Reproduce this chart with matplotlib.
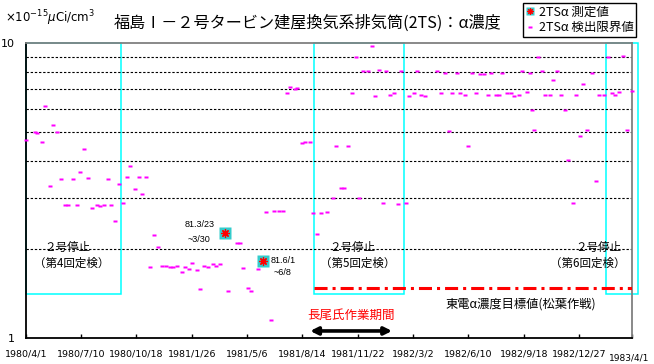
import matplotlib
matplotlib.use('Agg')
import matplotlib.pyplot as plt
from matplotlib.patches import Rectangle
from matplotlib.lines import Line2D
from matplotlib.path import Path
from matplotlib.ticker import LogLocator, NullFormatter, FixedLocator

plt.rcParams['font.family'] = ['Noto Sans CJK JP', 'DejaVu Sans']
plt.rcParams['lines.scale_dashes'] = False

# ---------------- data (x = days since 1980/4/1) ----------------
tick_days = [0, 100, 200, 300, 400, 500, 600, 700, 800, 900, 1000]
tick_labels = ['1980/4/1', '1980/7/10', '1980/10/18', '1981/1/26', '1981/5/6',
               '1981/8/14', '1981/11/22', '1982/3/2', '1982/6/10', '1982/9/18',
               '1982/12/27']
end_day = 1095
end_label = '1983/4/1'

lim_days = [1, 16, 21, 30, 35, 44, 50, 57, 64, 71, 77, 86, 92, 99, 105, 113, 119,
            128, 134, 142, 148, 155, 162, 169, 176, 183, 189, 197, 204, 211, 218,
            225, 231, 239, 246, 253, 260, 267, 274, 282, 287, 295, 301, 309, 315,
            323, 329, 338, 344, 351, 366, 381, 387, 393, 401, 408, 419, 435, 443,
            449, 458, 465, 472, 477, 486, 491, 499, 505, 513, 519, 527, 534, 545,
            555, 561, 569, 576, 583, 589, 596, 603, 610, 618, 625, 631, 639, 645,
            651, 659, 665, 672, 678, 687, 693, 701, 707, 715, 721, 744, 750, 757,
            765, 771, 779, 785, 793, 799, 807, 813, 821, 828, 835, 841, 849, 855,
            861, 869, 877, 882, 891, 897, 905, 911, 915, 919, 926, 933, 938, 947,
            953, 960, 967, 975, 980, 989, 995, 1001, 1007, 1014, 1023, 1031, 1036,
            1045, 1052, 1059, 1065, 1072, 1079, 1087, 1095]
lim_vals = [4.71, 5.01, 4.98, 4.63, 6.13, 3.29, 5.27, 5.01, 3.46, 2.84, 2.84, 3.46,
            2.84, 3.66, 4.39, 3.49, 2.77, 2.84, 2.81, 2.84, 3.46, 2.84, 2.49, 3.33,
            2.88, 3.53, 3.84, 3.21, 3.53, 3.08, 3.53, 1.74, 2.24, 2.04, 1.76, 1.76,
            1.74, 1.75, 1.76, 1.68, 1.74, 1.72, 1.80, 1.70, 1.47, 1.76, 1.74, 1.78,
            1.76, 1.78, 1.45, 2.10, 2.10, 1.73, 1.48, 1.45, 1.72, 2.67, 1.15, 2.70,
            2.70, 2.70, 6.77, 7.13, 7.02, 7.06, 4.60, 4.64, 4.64, 2.65, 2.26, 2.65,
            2.67, 3.00, 4.48, 3.23, 3.23, 4.48, 6.77, 9.01, 3.00, 8.04, 8.04, 9.81,
            6.64, 8.12, 2.88, 8.04, 6.70, 6.77, 2.86, 8.04, 2.88, 6.64, 6.77, 8.04,
            6.70, 6.64, 8.04, 6.77, 7.95, 5.06, 6.77, 7.95, 6.77, 6.70, 4.48, 7.95,
            6.77, 7.89, 7.89, 6.70, 7.95, 6.70, 6.70, 7.95, 6.77, 6.77, 6.64, 6.70,
            8.04, 6.82, 7.95, 5.94, 5.08, 9.01, 8.04, 6.70, 6.70, 7.51, 8.04, 6.70,
            5.94, 4.02, 2.88, 6.70, 4.84, 7.28, 5.08, 7.95, 3.42, 6.70, 6.70, 9.01,
            6.77, 6.70, 6.82, 9.08, 5.08, 6.91]

meas_days = [359.5, 429.5]
meas_vals = [2.27, 1.83]

outage_start = [0, 521, 1048]
outage_end = [172, 683, 1106]
outage_bottom = 1.41
outage_title = ['２号停止', '２号停止', '２号停止']
outage_sub = ['（第4回定検）', '（第5回定検）', '（第6回定検）']

target_value = 1.48
target_start = 521
work_start, work_end = 514, 662

# ---------------- figure ----------------
W, H = 654, 364
fig = plt.figure(figsize=(W / 100, H / 100), dpi=100)
ax = fig.add_axes([25.7 / W, 1 - 338.3 / H, (631.7 - 25.7) / W, (338.3 - 43.3) / H])
ax.set_yscale('log')
ax.set_xlim(0, end_day)
ax.set_ylim(1, 10)

# y axis
ax.yaxis.set_major_locator(FixedLocator([1, 10]))
ax.set_yticklabels(['1', '10'], fontsize=8, family='DejaVu Sans')
ax.yaxis.set_minor_locator(LogLocator(base=10, subs=range(2, 10)))
ax.yaxis.set_minor_formatter(NullFormatter())
ax.tick_params(axis='y', which='both', length=0, pad=8)
ax.grid(axis='y', which='minor', color='black', lw=0.8, ls=(0, (1.7, 1.3)))

# x axis
ax.set_xticks(tick_days + [end_day])
ax.set_xticklabels(tick_labels + [''], fontsize=6.8, family='DejaVu Sans')
ax.tick_params(axis='x', direction='in', length=2.6, width=1, pad=8)
ax.annotate(end_label, xy=(end_day, 0), xycoords=('data', 'axes fraction'),
            xytext=(-1.5, -14), textcoords='offset points', ha='center', va='center',
            fontsize=6.5, family='DejaVu Sans', annotation_clip=False)

for s in ['left', 'bottom']:
    ax.spines[s].set_color('black')
    ax.spines[s].set_linewidth(1.3)
for s in ['top', 'right']:
    ax.spines[s].set_color('#808080')
    ax.spines[s].set_linewidth(1.3)

# outage boxes
for s, e in zip(outage_start, outage_end):
    ax.add_patch(Rectangle((s, outage_bottom), e - s, 10 - outage_bottom, fill=False,
                           edgecolor='#00FFFF', lw=1.1, clip_on=False, zorder=1.5))

title_x = [74.6, 590.5, 1034]
sub_x = [83.7, 599.6, 1016]
for tx, sx, t1, t2 in zip(title_x, sub_x, outage_title, outage_sub):
    ax.text(tx, 2.03, t1, ha='center', va='center', fontsize=8.3, zorder=3)
    ax.text(sx, 1.80, t2, ha='center', va='center', fontsize=8.3, zorder=3)

# target line
ax.hlines(target_value, target_start, end_day, colors='red', lw=2.2,
          linestyles=[(0, (9.4, 3.6, 2.2, 3.6))], zorder=3)
ax.text(758, 1.307, '東電α濃度目標値(松葉作戦)', ha='left', va='center', fontsize=8.8)

# work period
ax.text((work_start + work_end) / 2, 1.20, '長尾氏作業期間', color='red', ha='center',
        va='center', fontsize=9)
ax.annotate('', xy=(work_end, 1.059), xytext=(work_start, 1.059),
            arrowprops=dict(arrowstyle='<|-|>', color='black', lw=2.6,
                            mutation_scale=11, shrinkA=0, shrinkB=0))

# detection limit points
rect = Path([(-1.4, -1), (1.4, -1), (1.4, 1), (-1.4, 1), (-1.4, -1)])
ax.plot(lim_days, lim_vals, ls='none', marker=rect, ms=3.0, mfc='#FF00FF',
        mec='none', zorder=4, clip_on=False)

# measured values
ax.plot(meas_days, meas_vals, ls='none', marker='s', ms=8.4, mfc='#33CCCC',
        mec='none', zorder=5)
ax.plot(meas_days, meas_vals, ls='none', marker=(8, 2, 0), ms=6, color='red',
        mew=0.9, zorder=6)
ax.text(315, 2.44, '81.3/23', ha='center', va='center', fontsize=6.5,
        family='Liberation Sans')
ax.text(313, 2.17, '~3/30', ha='center', va='center', fontsize=6.5,
        family='Liberation Sans')
ax.text(465, 1.84, '81.6/1', ha='center', va='center', fontsize=6.5,
        family='Liberation Sans')
ax.text(464, 1.67, '~6/8', ha='center', va='center', fontsize=6.5,
        family='Liberation Sans')

# titles
fig.text(5 / W, 1 - 18 / H, r'$\times10^{-15}\mu$Ci/cm$^3$', ha='left', va='center',
         fontsize=8.5, family='DejaVu Sans')
fig.text(308 / W, 1 - 23.5 / H, '福島Ⅰ－２号タービン建屋換気系排気筒(2TS)：α濃度',
         ha='center', va='center', fontsize=11.6)

# legend
h_meas = (Line2D([], [], ls='none', marker='s', ms=5.5, mfc='#33CCCC', mec='none'),
          Line2D([], [], ls='none', marker=(8, 2, 0), ms=4.5, color='red', mew=0.8))
h_lim = Line2D([], [], ls='none', marker=rect, ms=3.0, mfc='#FF00FF', mec='none')
leg = fig.legend([h_meas, h_lim], ['2TSα 測定値', '2TSα 検出限界値'],
                 loc='upper right', bbox_to_anchor=(636 / W, 1 - 3 / H),
                 fontsize=9, frameon=True, fancybox=False, edgecolor='black',
                 framealpha=1, borderpad=0.2, labelspacing=0.2, handlelength=0.7,
                 handletextpad=0.35, borderaxespad=0)
leg.get_frame().set_linewidth(1.0)

fig.savefig('out.png', dpi=100)
